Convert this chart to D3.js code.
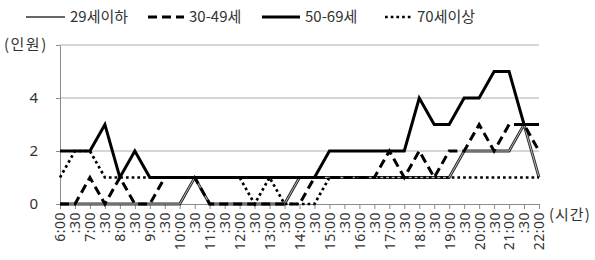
<!DOCTYPE html>
<html>
<head>
<meta charset="utf-8">
<script src="https://cdn.jsdelivr.net/npm/d3@7"></script>
<style>
  body { margin: 0; background: #fff; }
  svg { display: block; font-family: "Noto Sans CJK KR", "Noto Sans", sans-serif; }
</style>
</head>
<body>
<svg id="chart" width="595" height="260"></svg>
<script>
// x categories, every half hour 6:00 - 22:00
var timeLabels = ["6:00", ":30", "7:00", ":30", "8:00", ":30", "9:00", ":30",
  "10:00", ":30", "11:00", ":30", "12:00", ":30", "13:00", ":30",
  "14:00", ":30", "15:00", ":30", "16:00", ":30", "17:00", ":30",
  "18:00", ":30", "19:00", ":30", "20:00", ":30", "21:00", ":30", "22:00"];

var seriesNames = ["29세이하", "30-49세", "50-69세", "70세이상"];

var under29 = [0,0,0,0,0,0,0,0,0,1,0,0,0,0,0,0,1,1,1,1,1,1,1,1,1,1,1,2,2,2,2,3,1];
var age30_49 = [0,0,1,0,1,0,0,1,1,1,0,0,0,0,0,0,0,1,1,1,1,1,2,1,2,1,2,2,3,2,3,3,2];
var age50_69 = [2,2,2,3,1,2,1,1,1,1,1,1,1,1,1,1,1,1,2,2,2,2,2,2,4,3,3,4,4,5,5,3,3];
var age70 = [1,2,2,1,1,1,1,1,1,1,1,1,1,0,1,0,0,0,1,1,1,1,1,1,1,1,1,1,1,1,1,1,1];

var yTicks = [0, 2, 4, 6];

var svg = d3.select('#chart');
var mLeft = 60, mRight = 539, mTop = 45, mBottom = 204;

var x = d3.scalePoint().domain(d3.range(timeLabels.length)).range([mLeft, mRight]);
var y = d3.scaleLinear().domain([0, 6]).range([mBottom, mTop]);

// grid
svg.append('g').selectAll('line').data(yTicks.filter(function(d) { return d > 0; }))
  .enter().append('line')
  .attr('x1', mLeft).attr('x2', mRight)
  .attr('y1', function(d) { return y(d); }).attr('y2', function(d) { return y(d); })
  .attr('stroke', '#acacac').attr('stroke-width', 1);

// y axis
var yAxis = d3.axisLeft(y).tickValues(yTicks).tickSize(4).tickSizeOuter(0)
  .tickFormat(function(d) { return d === 6 ? '' : d; });
svg.append('g').attr('transform', 'translate(' + mLeft + ',0)').call(yAxis)
  .call(function(g) {
    g.select('.domain').attr('stroke', '#8c8c8c');
    g.selectAll('.tick line').attr('stroke', '#8c8c8c');
    g.selectAll('.tick text').attr('font-size', 15).attr('fill', '#333').attr('x', -22)
      .attr('font-family', '"Noto Sans", sans-serif');
  });

svg.append('text').attr('x', 4).attr('y', 50).attr('font-size', 15).attr('fill', '#333')
  .attr('letter-spacing', 1.5).text('(인원)');

// x axis
var xAxis = d3.axisBottom(x).tickSize(5).tickSizeOuter(0)
  .tickFormat(function(i) { return timeLabels[i]; });
svg.append('g').attr('transform', 'translate(0,' + mBottom + ')').call(xAxis)
  .call(function(g) {
    g.select('.domain').attr('stroke', '#8c8c8c');
    g.selectAll('.tick line').attr('stroke', '#8c8c8c');
    g.selectAll('.tick text')
      .attr('font-size', 14).attr('fill', '#333')
      .attr('letter-spacing', 0.5)
      .attr('font-family', '"Noto Sans", sans-serif')
      .attr('transform', 'rotate(-90)')
      .attr('text-anchor', 'end')
      .attr('x', -8).attr('y', 0).attr('dy', '0.35em');
  });

svg.append('text').attr('x', 549).attr('y', 220).attr('font-size', 15).attr('fill', '#333')
  .attr('letter-spacing', 1).text('(시간)');

// lines
var line = d3.line().x(function(d, i) { return x(i); }).y(function(d) { return y(d); });

var styles = [
  { data: under29 },
  { data: age30_49, width: 3, dash: '9,5' },
  { data: age50_69, width: 3, dash: null },
  { data: age70, width: 2.7, dash: '2.7,3' }
];

// 29세이하: dark outline with a faint light core (looks doubled on slopes)
svg.append('path').attr('d', line(under29)).attr('fill', 'none')
  .attr('stroke', '#2a2a2a').attr('stroke-width', 2.8);
svg.append('path').attr('d', line(under29)).attr('fill', 'none')
  .attr('stroke', '#fff').attr('stroke-opacity', 0.75).attr('stroke-width', 0.9);

styles.slice(1).forEach(function(s) {
  svg.append('path').attr('d', line(s.data)).attr('fill', 'none')
    .attr('stroke', '#000').attr('stroke-width', s.width)
    .attr('stroke-dasharray', s.dash);
});

// legend
var legendX = [26, 148, 262, 385];
var legendLen = [39, 36, 38, 27];
var legend = svg.append('g');
seriesNames.forEach(function(name, k) {
  var g = legend.append('g').attr('transform', 'translate(' + legendX[k] + ',17)');
  var ln = g.append('line').attr('x1', 0).attr('x2', legendLen[k]).attr('y1', 0).attr('y2', 0)
    .attr('stroke', '#000');
  if (k === 0) ln.attr('stroke', '#333').attr('stroke-width', 1.5);
  else ln.attr('stroke-width', styles[k].width).attr('stroke-dasharray', styles[k].dash);
  g.append('text').attr('x', legendLen[k] + 5).attr('y', 5).attr('font-size', 15)
    .attr('fill', '#333').text(name);
});
</script>
</body>
</html>
